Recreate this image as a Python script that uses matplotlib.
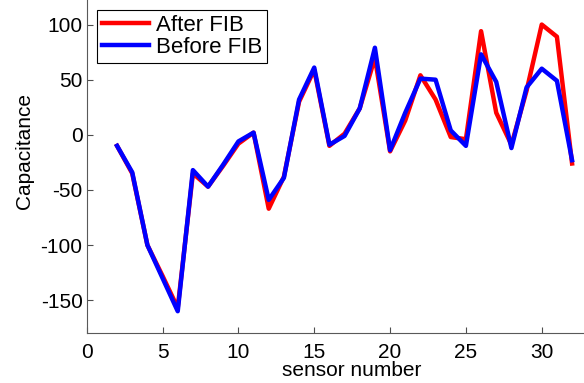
import numpy as np
import matplotlib.pyplot as plt

sensor = list(range(2, 33))
after_fib = [-10, -35, -100, -128, -157, -35, -47, -28, -8, 2, -67, -38, 30, 59, -10,
             1, 24, 70, -15, 13, 54, 32, -2, -4, 94, 20, -9, 40, 100, 89, -26]
before_fib = [-10, -34, -100, -130, -160, -32, -47, -27, -6, 2, -59, -39, 32, 61, -9,
              -1, 24, 79, -14, 20, 51, 50, 4, -10, 73, 48, -12, 43, 60, 49, -23]

plt.rcParams['font.family'] = ['Liberation Sans', 'DejaVu Sans']
plt.rcParams['axes.unicode_minus'] = False

fig = plt.figure(figsize=(5.84, 3.83), dpi=100)
ax = fig.add_axes([0.1485, 0.1298, 0.909, 0.95])

ax.plot(sensor, after_fib, color='red', lw=3.2, label='After FIB')
ax.plot(sensor, before_fib, color='blue', lw=3.2, label='Before FIB')

ax.set_xlim(0, 35)
ax.set_ylim(-180, 150)
ax.set_xticks([0, 5, 10, 15, 20, 25, 30])
ax.set_yticks([-150, -100, -50, 0, 50, 100])
ax.tick_params(direction='in', length=4, labelsize=15, width=0.8, color='0.3')
ax.tick_params(axis='x', pad=7)
ax.tick_params(axis='y', pad=3)
for s in ['left', 'bottom']:
    ax.spines[s].set_color('0.35')
ax.spines['top'].set_visible(False)
ax.spines['right'].set_visible(False)
ax.set_xlabel('sensor number', fontsize=15, labelpad=-1)
ax.set_ylabel('Capacitance', fontsize=15, labelpad=5)

leg = ax.legend(loc='upper left', bbox_to_anchor=(0.0194, 0.0, 1, 0.888), fontsize=16,
                handlelength=2.1, handletextpad=0.35, borderpad=0.22, labelspacing=0.05,
                borderaxespad=0, fancybox=False, framealpha=1, edgecolor='black')
leg.get_frame().set_linewidth(0.8)

fig.savefig('out.png', dpi=100)
